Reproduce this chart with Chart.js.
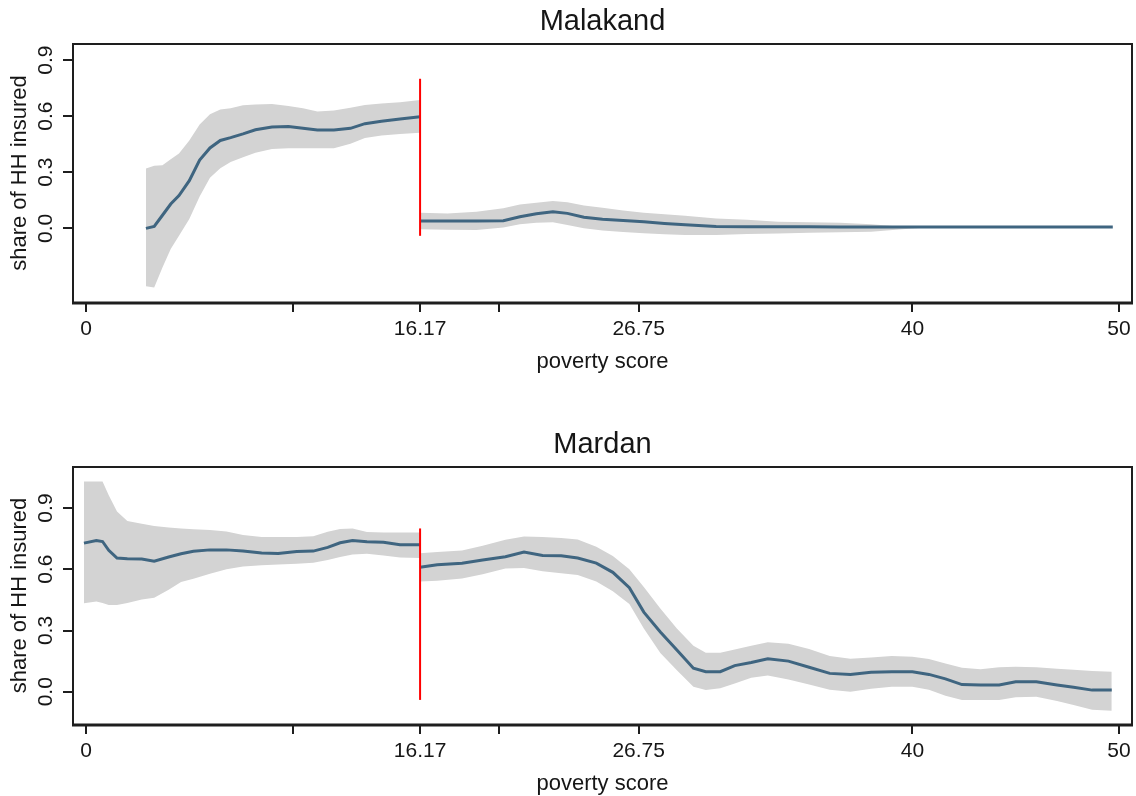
<!DOCTYPE html>
<html lang="en">
<head>
<meta charset="UTF-8">
<title>share of HH insured by poverty score</title>
<script src="https://cdn.jsdelivr.net/npm/chart.js"></script>
<style>
  html, body { margin: 0; padding: 0; background: #fff; overflow: hidden; }
  canvas { display: block; }
</style>
</head>
<body>
<canvas id="malakand" width="1136" height="398"></canvas>
<canvas id="mardan" width="1136" height="410"></canvas>
<script>
// axis ticks
const xTickValues = [0, 10, 16.17, 20, 26.75, 40, 50];
const xTickLabels = ['0', '', '16.17', '', '26.75', '40', '50'];
const yTickValues = [0, 0.3, 0.6, 0.9];
const yTickLabels = ['0.0', '0.3', '0.6', '0.9'];

// cutoff marker
const cutoff = 16.17;
const cutoffSpan = [-0.04, 0.80];

// Malakand, below the cutoff
const malLeftX   = [2.9, 3.3, 3.7, 4.1, 4.5, 5.0, 5.5, 6.0, 6.5, 7.0, 7.6, 8.2, 9.0, 9.8, 10.5, 11.2, 12.0, 12.8, 13.5, 14.3, 15.2, 16.17];
const malLeftFit = [0.000, 0.010, 0.070, 0.130, 0.175, 0.255, 0.365, 0.430, 0.470, 0.485, 0.505, 0.527, 0.542, 0.545, 0.535, 0.526, 0.526, 0.535, 0.560, 0.573, 0.585, 0.597];
const malLeftHi  = [0.320, 0.335, 0.338, 0.370, 0.400, 0.470, 0.555, 0.610, 0.635, 0.643, 0.658, 0.662, 0.665, 0.655, 0.642, 0.625, 0.630, 0.645, 0.660, 0.668, 0.675, 0.686];
const malLeftLo  = [-0.310, -0.316, -0.210, -0.110, -0.040, 0.050, 0.170, 0.270, 0.322, 0.355, 0.380, 0.404, 0.424, 0.428, 0.428, 0.428, 0.428, 0.452, 0.483, 0.497, 0.505, 0.511];

// Malakand, above the cutoff
const malRightX   = [16.17, 17.5, 18.9, 20.2, 21.0, 21.8, 22.6, 23.3, 24.1, 25.0, 26.0, 27.0, 28.0, 29.0, 30.5, 32.0, 33.5, 35.0, 36.5, 38.0, 39.5, 41.0, 44.0, 47.0, 49.7];
const malRightFit = [0.039, 0.039, 0.039, 0.041, 0.062, 0.078, 0.089, 0.080, 0.059, 0.048, 0.042, 0.035, 0.026, 0.019, 0.010, 0.009, 0.008, 0.008, 0.007, 0.007, 0.007, 0.007, 0.007, 0.007, 0.007];
const malRightHi  = [0.083, 0.080, 0.089, 0.107, 0.127, 0.137, 0.146, 0.139, 0.122, 0.110, 0.095, 0.084, 0.075, 0.067, 0.053, 0.046, 0.035, 0.032, 0.030, 0.022, 0.009, 0.007, 0.007, 0.007, 0.007];
const malRightLo  = [-0.005, -0.008, -0.009, 0.005, 0.022, 0.030, 0.032, 0.018, 0.000, -0.012, -0.020, -0.026, -0.031, -0.035, -0.035, -0.030, -0.027, -0.024, -0.021, -0.018, -0.005, 0.007, 0.007, 0.007, 0.007];

// Mardan, below the cutoff
const marLeftX   = [-0.1, 0.5, 0.8, 1.1, 1.5, 2.0, 2.7, 3.3, 4.0, 4.6, 5.2, 6.0, 6.8, 7.6, 8.5, 9.3, 10.2, 11.0, 11.7, 12.3, 12.9, 13.6, 14.4, 15.2, 16.17];
const marLeftFit = [0.728, 0.741, 0.736, 0.693, 0.655, 0.651, 0.650, 0.639, 0.660, 0.676, 0.688, 0.695, 0.695, 0.690, 0.680, 0.677, 0.687, 0.689, 0.707, 0.730, 0.741, 0.735, 0.732, 0.720, 0.720];
const marLeftHi  = [1.030, 1.030, 1.030, 0.963, 0.883, 0.837, 0.823, 0.812, 0.805, 0.800, 0.796, 0.792, 0.785, 0.768, 0.758, 0.758, 0.758, 0.762, 0.784, 0.797, 0.800, 0.782, 0.780, 0.780, 0.780];
const marLeftLo  = [0.434, 0.442, 0.435, 0.425, 0.425, 0.435, 0.452, 0.460, 0.500, 0.538, 0.553, 0.578, 0.600, 0.613, 0.620, 0.623, 0.627, 0.632, 0.645, 0.660, 0.672, 0.676, 0.668, 0.658, 0.655];

// Mardan, above the cutoff
const marRightX   = [16.17, 17.0, 18.2, 19.2, 20.3, 21.2, 22.1, 23.0, 23.8, 24.7, 25.5, 26.3, 27.0, 27.8, 28.6, 29.4, 30.0, 30.7, 31.4, 32.2, 33.0, 34.0, 35.0, 36.0, 37.0, 38.0, 39.0, 40.0, 40.8, 41.6, 42.4, 43.3, 44.2, 45.0, 46.0, 47.0, 47.8, 48.7, 49.65];
const marRightFit = [0.610, 0.622, 0.630, 0.645, 0.661, 0.684, 0.668, 0.666, 0.655, 0.630, 0.585, 0.510, 0.390, 0.293, 0.205, 0.115, 0.098, 0.098, 0.128, 0.143, 0.162, 0.150, 0.120, 0.090, 0.085, 0.096, 0.098, 0.098, 0.085, 0.063, 0.035, 0.033, 0.033, 0.049, 0.049, 0.033, 0.022, 0.008, 0.008];
const marRightHi  = [0.679, 0.685, 0.692, 0.715, 0.745, 0.761, 0.758, 0.753, 0.746, 0.710, 0.665, 0.600, 0.513, 0.408, 0.310, 0.225, 0.191, 0.191, 0.207, 0.225, 0.243, 0.235, 0.210, 0.175, 0.162, 0.168, 0.175, 0.172, 0.160, 0.138, 0.118, 0.110, 0.120, 0.122, 0.120, 0.113, 0.108, 0.102, 0.098];
const marRightLo  = [0.540, 0.544, 0.555, 0.575, 0.604, 0.606, 0.590, 0.580, 0.572, 0.540, 0.492, 0.430, 0.310, 0.190, 0.105, 0.025, 0.008, 0.017, 0.041, 0.068, 0.080, 0.060, 0.035, 0.010, 0.000, 0.015, 0.025, 0.025, 0.010, -0.020, -0.041, -0.041, -0.041, -0.027, -0.024, -0.045, -0.065, -0.088, -0.093];

const textColor = '#161616';
const frameColor = '#1e1e1e';
const fitColor = '#3f6580';
const bandColor = '#d3d3d3';
const fontFamily = '"Liberation Sans", Arial, sans-serif';

Chart.defaults.font.family = fontFamily;
Chart.defaults.color = textColor;

const toPoints = (xs, ys) => xs.map((x, i) => ({ x: x, y: ys[i] }));

// stata style frame plus the rotated y tick labels
const stataFrame = {
    id: 'stataFrame',
    afterDraw(chart) {
        const ctx = chart.ctx;
        const a = chart.chartArea;
        const y = chart.scales.y;
        ctx.save();
        ctx.strokeStyle = frameColor;
        ctx.lineWidth = 2;
        ctx.beginPath();
        ctx.moveTo(a.left, a.bottom);
        ctx.lineTo(a.left, a.top);
        ctx.lineTo(a.right, a.top);
        ctx.lineTo(a.right, a.bottom);
        ctx.stroke();
        ctx.lineWidth = 3;
        ctx.beginPath();
        ctx.moveTo(a.left - 1, a.bottom + 1);
        ctx.lineTo(a.right + 1, a.bottom + 1);
        ctx.stroke();

        ctx.fillStyle = textColor;
        ctx.font = '21px ' + fontFamily;
        ctx.textAlign = 'center';
        ctx.textBaseline = 'alphabetic';
        yTickValues.forEach((v, i) => {
            ctx.save();
            ctx.translate(a.left - 21, y.getPixelForValue(v));
            ctx.rotate(-Math.PI / 2);
            ctx.fillText(yTickLabels[i], 0, 0);
            ctx.restore();
        });
        ctx.restore();
    }
};

function makePanel(id, title, seg, p) {
    const band = (xs, ys, fill) => ({
        data: toPoints(xs, ys),
        borderWidth: 0,
        pointRadius: 0,
        backgroundColor: bandColor,
        fill: fill
    });
    const fit = (xs, ys) => ({
        data: toPoints(xs, ys),
        borderColor: fitColor,
        borderWidth: 3,
        pointRadius: 0,
        fill: false
    });

    const tickGrid = {
        drawOnChartArea: false,
        drawTicks: true,
        tickLength: 10,
        lineWidth: 2,
        color: frameColor
    };

    return new Chart(document.getElementById(id), {
        type: 'line',
        data: {
            datasets: [
                {
                    data: [{ x: cutoff, y: cutoffSpan[0] }, { x: cutoff, y: cutoffSpan[1] }],
                    borderColor: '#ff0000',
                    borderWidth: 2,
                    pointRadius: 0,
                    fill: false
                },
                fit(seg.lx, seg.lfit),
                fit(seg.rx, seg.rfit),
                band(seg.lx, seg.lhi, '+1'),
                band(seg.lx, seg.llo, false),
                band(seg.rx, seg.rhi, '+1'),
                band(seg.rx, seg.rlo, false)
            ]
        },
        options: {
            responsive: false,
            animation: false,
            devicePixelRatio: 1,
            layout: { padding: { left: 0, right: 4, top: 0, bottom: 0 } },
            plugins: {
                legend: { display: false },
                tooltip: { enabled: false },
                title: {
                    display: true,
                    fullSize: false,
                    text: title,
                    color: textColor,
                    font: { size: 29, weight: 'normal' },
                    padding: { top: p.titleTop, bottom: 4.6 }
                }
            },
            scales: {
                x: {
                    type: 'linear',
                    min: -0.63,
                    max: 50.63,
                    afterBuildTicks: s => { s.ticks = xTickValues.map(v => ({ value: v })); },
                    afterFit: s => { s.height = p.xAxisHeight; },
                    ticks: {
                        autoSkip: false,
                        maxRotation: 0,
                        minRotation: 0,
                        padding: 5,
                        color: textColor,
                        font: { size: 21 },
                        callback: (v, i) => xTickLabels[i]
                    },
                    grid: tickGrid,
                    border: { display: false },
                    title: {
                        display: true,
                        text: 'poverty score',
                        color: textColor,
                        font: { size: 22 },
                        padding: { top: 0, bottom: p.xTitleBottom }
                    }
                },
                y: {
                    min: p.yMin,
                    max: p.yMax,
                    afterBuildTicks: s => { s.ticks = yTickValues.map(v => ({ value: v })); },
                    afterFit: s => { s.width = 73; },
                    ticks: { display: false },
                    grid: tickGrid,
                    border: { display: false },
                    title: {
                        display: true,
                        text: 'share of HH insured',
                        color: textColor,
                        font: { size: 22 },
                        padding: { top: 7.2, bottom: 0 }
                    }
                }
            }
        },
        plugins: [stataFrame]
    });
}

makePanel('malakand', 'Malakand',
    { lx: malLeftX, lfit: malLeftFit, lhi: malLeftHi, llo: malLeftLo,
      rx: malRightX, rfit: malRightFit, rhi: malRightHi, rlo: malRightLo },
    { titleTop: 4.6, xAxisHeight: 96, xTitleBottom: 22.4, yMin: -0.394, yMax: 0.986 });

makePanel('mardan', 'Mardan',
    { lx: marLeftX, lfit: marLeftFit, lhi: marLeftHi, llo: marLeftLo,
      rx: marRightX, rfit: marRightFit, rhi: marRightHi, rlo: marRightLo },
    { titleTop: 29.6, xAxisHeight: 84, xTitleBottom: 10.4, yMin: -0.158, yMax: 1.101 });
</script>
</body>
</html>
